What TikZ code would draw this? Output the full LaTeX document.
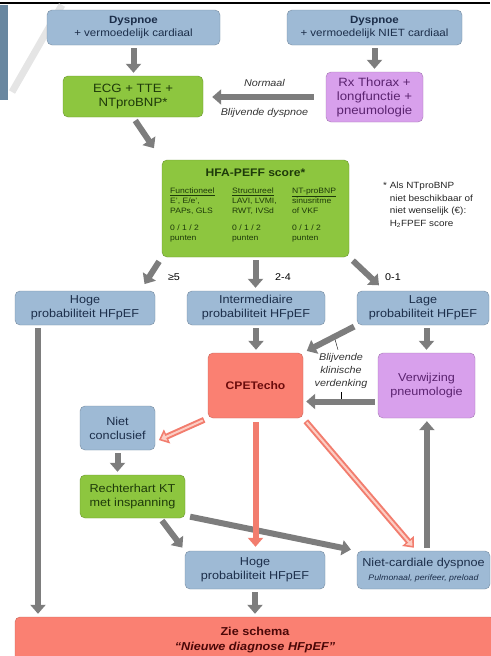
\documentclass[tikz,border=0pt]{standalone}
\usepackage{fontspec}
\setmainfont{Liberation Sans}[FakeStretch=1.1]
\usepackage{tikz}
\usetikzlibrary{arrows.meta}

\definecolor{boxblue}{RGB}{158,186,213}
\definecolor{boxgreen}{RGB}{141,198,63}
\definecolor{boxviolet}{RGB}{216,160,236}
\definecolor{boxred}{RGB}{250,128,114}
\definecolor{arrowgray}{RGB}{125,125,125}
\definecolor{arrowred}{RGB}{242,125,110}
\definecolor{arrowpink}{RGB}{252,205,195}
\definecolor{bluetext}{RGB}{28,46,74}
\definecolor{greentext}{RGB}{30,58,10}
\definecolor{violettext}{RGB}{91,35,112}
\definecolor{redtext}{RGB}{107,12,12}
\definecolor{leftbar}{RGB}{105,135,160}

\begin{document}
\begin{tikzpicture}[x=1pt,y=-1pt,
	box/.style={rounded corners=5pt, align=center, inner sep=1pt, font=\fontsize{11.5}{14}\selectfont},
	bluebox/.style={box, fill=boxblue, draw=boxblue!75!black, text=bluetext},
	greenbox/.style={box, fill=boxgreen, draw=boxgreen!75!black, text=greentext},
	violetbox/.style={box, fill=boxviolet, draw=boxviolet!75!black, text=violettext},
	redbox/.style={box, fill=boxred, draw=boxred!80!black, text=redtext},
	garrow/.style={draw=arrowgray, line width=6pt, -{Triangle[width=15pt,length=9pt]}, shorten <=3pt, shorten >=3pt},
	parrow/.style={draw=arrowred, line width=6pt, -{Triangle[width=15pt,length=9pt]}, shorten <=4pt, shorten >=4pt},
	parrowin/.style={draw=arrowpink, line width=2pt, -{Triangle[width=8pt,length=5pt]}, shorten <=5.5pt, shorten >=6.5pt},
	lbl/.style={font=\fontsize{9.8}{13}\selectfont\itshape, text=black!80},
	tabcol/.style={anchor=north west, align=left, inner sep=0pt, text=greentext, font=\fontsize{7.8}{10}\selectfont}
]
	\useasboundingbox (0,0) rectangle (490,656);
	\draw[line width=2pt] (0,3) -- (490,3);
	\fill[leftbar] (0,5) rectangle (8,100);
	\draw[black!10, line width=7pt] (12,92) -- (62,5);

	\node[bluebox, minimum width=173pt, minimum height=35pt, font=\fontsize{10.5}{12.5}\selectfont] (dysL) at (133.5,27.5) {\textbf{Dyspnoe}\\+ vermoedelijk cardiaal};
	\node[bluebox, minimum width=175pt, minimum height=35pt, font=\fontsize{10.5}{12.5}\selectfont] (dysR) at (374.5,27.5) {\textbf{Dyspnoe}\\+ vermoedelijk NIET cardiaal};
	\node[greenbox, minimum width=140pt, minimum height=41pt, font=\fontsize{12}{13.5}\selectfont] (ecg) at (133,96.5) {ECG + TTE +\\NTproBNP*};
	\node[violetbox, minimum width=97pt, minimum height=50pt, font=\fontsize{12}{14}\selectfont] (rx) at (374.5,97) {Rx Thorax +\\longfunctie +\\pneumologie};

	\node[greenbox, minimum width=187pt, minimum height=97pt] (hfa) at (255.5,208.5) {};
	\node[text=greentext, font=\fontsize{11}{13}\selectfont\bfseries] (hfatitle) at (255.5,173) {HFA-PEFF score*};
	\node[tabcol] (colF) at (170,188) {\underline{Functioneel}\\E', E/e',\\PAPs, GLS\\[7pt]0 / 1 / 2\\punten};
	\node[tabcol] (colS) at (232,188) {\underline{Structureel}\\LAVI, LVMI,\\RWT, IVSd\\[7pt]0 / 1 / 2\\punten};
	\node[tabcol] (colN) at (292,188) {\underline{NT-proBNP}\\sinusritme\\of VKF\\[7pt]0 / 1 / 2\\punten};
	\node[anchor=north west, align=left, inner sep=0pt, text=black!85, font=\fontsize{9}{12.5}\selectfont] (note) at (383,182) {* Als NTproBNP\\\phantom{* }niet beschikbaar of\\\phantom{* }niet wenselijk (€):\\\phantom{* }H\textsubscript{2}FPEF score};

	\node[bluebox, minimum width=140pt, minimum height=34pt] (hogeA) at (85,308) {Hoge\\probabiliteit HFpEF};
	\node[bluebox, minimum width=138pt, minimum height=34pt] (inter) at (256,308) {Intermediaire\\probabiliteit HFpEF};
	\node[bluebox, minimum width=132pt, minimum height=34pt] (lage) at (423,308) {Lage\\probabiliteit HFpEF};
	\foreach \nm/\xx/\txt in {scA/174/≥5, scB/283/2-4, scC/393/0-1}
		\node[font=\fontsize{9.8}{12}\selectfont] (\nm) at (\xx,277) {\txt};

	\node[redbox, minimum width=95pt, minimum height=65pt, font=\fontsize{11}{13}\selectfont\bfseries] (cpet) at (255.5,385.5) {CPETecho};
	\node[violetbox, minimum width=97pt, minimum height=65pt] (verw) at (426.5,385.5) {Verwijzing\\pneumologie};
	\node[lbl, align=center] (klin) at (341,371) {Blijvende\\klinische\\verdenking};

	\node[bluebox, minimum width=75pt, minimum height=44pt] (niet) at (117.5,428) {Niet\\conclusief};
	\node[greenbox, minimum width=105pt, minimum height=43pt] (recht) at (132.5,496.5) {Rechterhart KT\\met inspanning};
	\node[bluebox, minimum width=140pt, minimum height=38pt] (hogeB) at (255,570) {Hoge\\probabiliteit HFpEF};
	\node[bluebox, minimum width=133pt, minimum height=38pt] (nietc) at (423.5,570) {Niet-cardiale dyspnoe\\{\fontsize{8}{11}\selectfont\itshape Pulmonaal, perifeer, preload}};
	\node[redbox, minimum width=480pt, minimum height=46pt, font=\fontsize{11.5}{15}\selectfont, text=redtext!70!black] (zie) at (255,640) {\textbf{Zie schema}\\\textbf{\textit{“Nieuwe diagnose HFpEF”}}};

	\draw[garrow] (dysL.south) -- (dysL.south |- ecg.north);
	\draw[garrow] (dysR.south) -- (rx.north);
	\draw[garrow, shorten <=12pt, shorten >=9pt] (rx.west) -- node[lbl, above=4pt] (normaal) {Normaal} node[lbl, below=5pt] (blijvend) {Blijvende dyspnoe} (rx.west -| ecg.east);
	\draw[garrow, shorten <=4pt, shorten >=14pt] (ecg.south) -- (hfa.north west);
	\draw[garrow, shorten <=5pt, shorten >=8pt] (hfa.south west) -- ([xshift=-15pt]hogeA.north east);
	\draw[garrow] (hfa.south) -- (hfa.south |- inter.north);
	\draw[garrow, shorten <=5pt, shorten >=8pt] (hfa.south east) -- ([xshift=28pt]lage.north west);
	\draw[garrow] (inter.south) -- (inter.south |- cpet.north);
	\draw[garrow] (verw.north |- lage.south) -- (verw.north);
	\draw[garrow, shorten <=3pt, shorten >=4pt] (lage.south west) -- coordinate[pos=0.42] (kink) (cpet.north east);
	\draw[garrow] ([yshift=-16pt]verw.west) -- coordinate[pos=0.55] (hkink) ([yshift=-16pt]cpet.east);
	\draw[thin, shorten >=3pt] ([xshift=-3pt]klin.north) -- (kink);
	\draw[thin, shorten >=3pt] (klin.south) -- (klin.south |- hkink);
	\draw[garrow] ([xshift=-47pt]hogeA.south) -- ([xshift=-47pt]hogeA.south |- zie.north);
	\draw[garrow] (niet.south) -- (niet.south |- recht.north);
	\draw[garrow, shorten <=5pt, shorten >=6pt] (recht.-20) -- (nietc.north west);
	\draw[garrow, shorten <=3pt, shorten >=4pt] ([xshift=-25pt]recht.south east) -- (hogeB.north west);
	\draw[garrow] (nietc.80) -- (nietc.80 |- verw.south);
	\draw[garrow] (hogeB.south) -- (hogeB.south |- zie.north);

	\draw[parrow] (cpet.south) -- (cpet.south |- hogeB.north);
	\foreach \from/\to in {cpet.south west/niet.-20, cpet.south east/nietc.110}
	{
		\draw[parrow] (\from) -- (\to);
		\draw[parrowin] (\from) -- (\to);
	}
\end{tikzpicture}
\end{document}
